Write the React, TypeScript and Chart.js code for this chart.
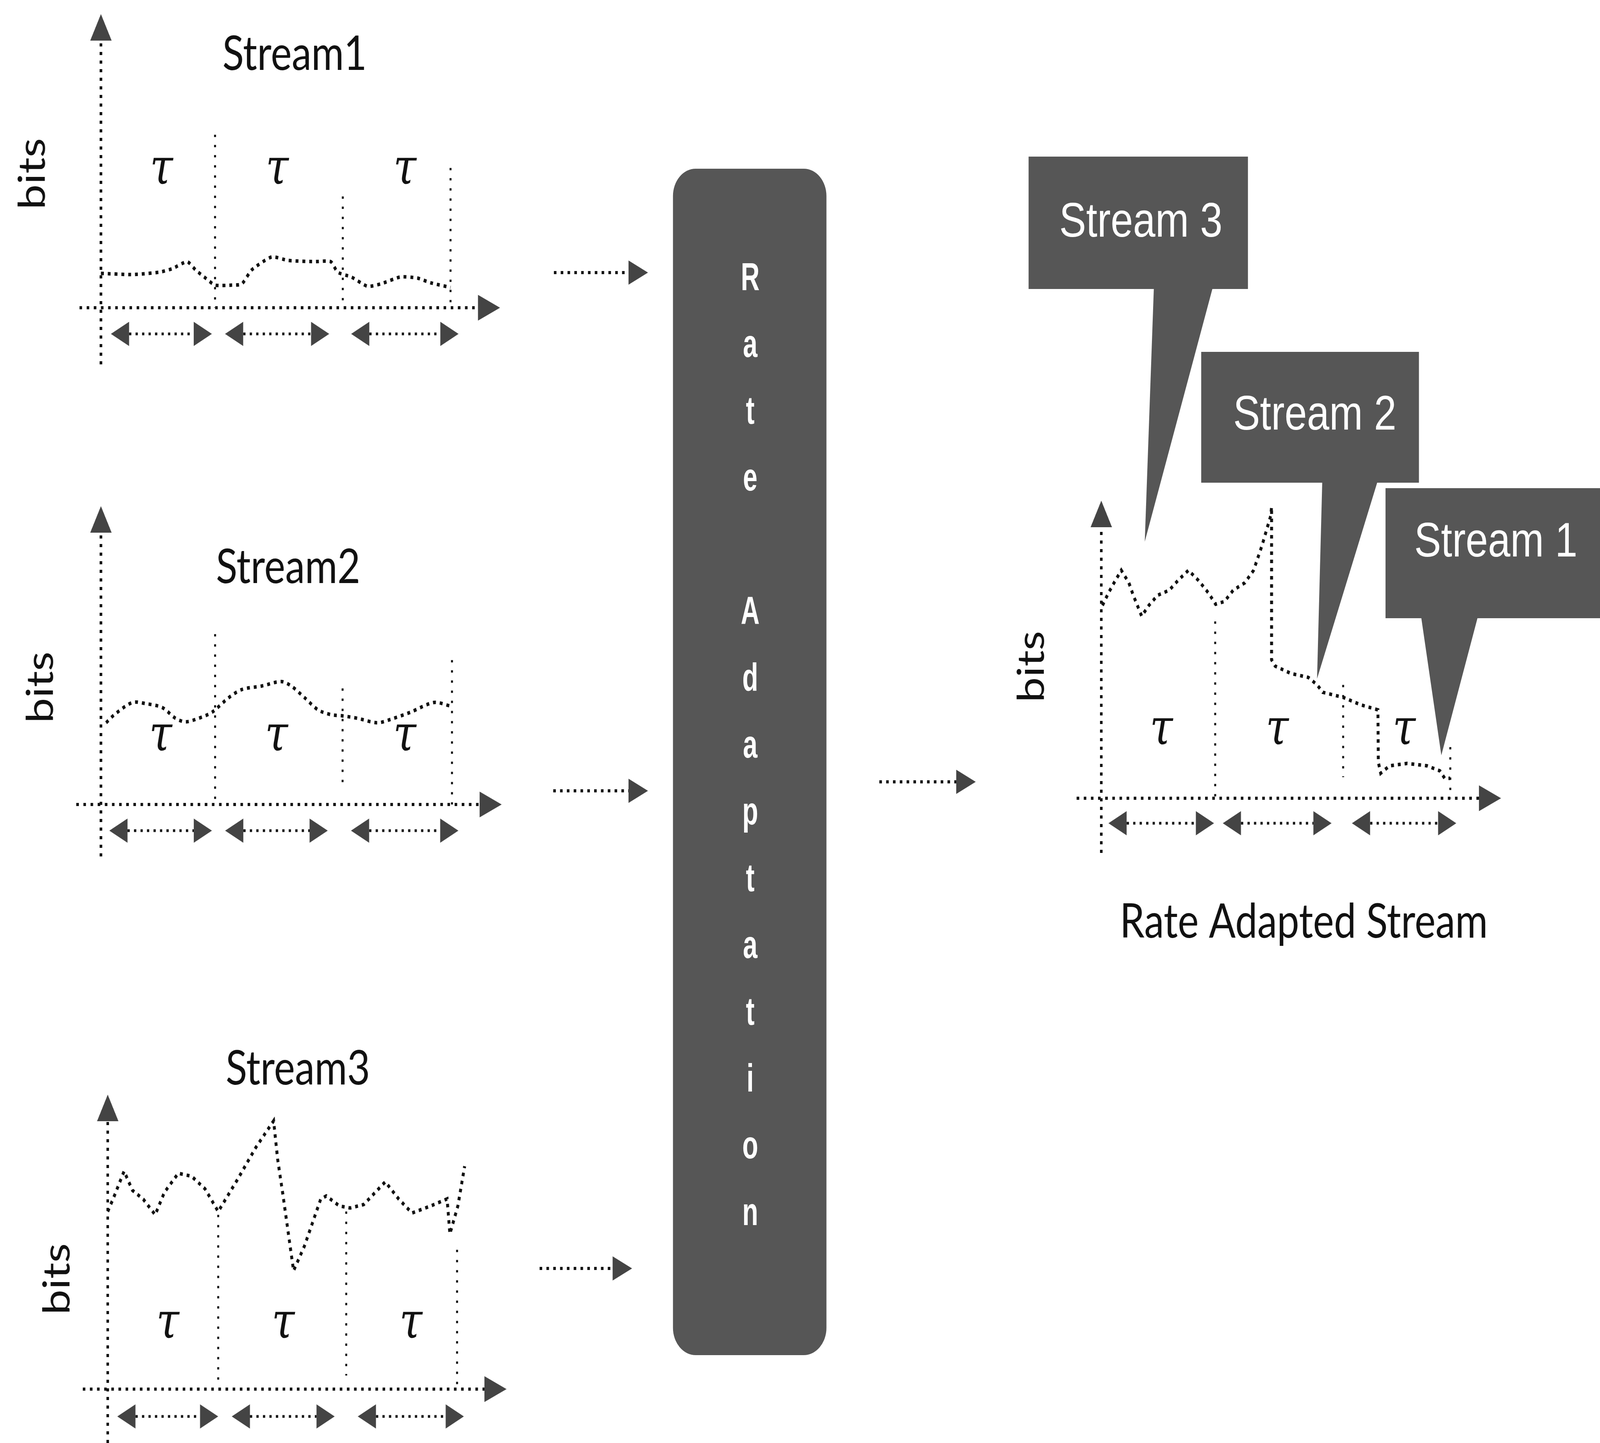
import React, { useEffect, useRef } from "react";
import { Chart, registerables } from "chart.js";

Chart.register(...registerables);

// ---------------- DATA (time units 0–100 along each time axis, bits units 0–100) ----------------
const stream1Time = [0, 7.9, 14.6, 17.9, 21.6, 23.7, 26.2, 28.6, 32.8, 35.3, 37.8, 42.8, 46.9, 53.5, 57.6, 59.3, 62.7, 66.8, 70.1, 75.1, 79.3, 82.6, 87.6];
const stream1Bits = [11.7, 11.3, 12.1, 13.3, 15.7, 12.9, 10.1, 7.7, 7.7, 8.1, 12.9, 17.3, 16.1, 15.7, 15.7, 12.1, 10.5, 7.3, 8.1, 10.5, 10.1, 8.5, 6.9];
const stream1Boundaries = [28.6, 60.6, 87.6];
const stream1BoundaryTops = [58.9, 37.9, 47.6];
const stream1BoundaryBottoms = [0, 0, 0];
const stream1Periods = [[2.5, 27.8], [31.1, 57.2], [62.7, 89.6]];

const stream2Time = [1.3, 3.7, 7.9, 11.2, 15.3, 18.6, 21.1, 24.4, 27.7, 31.8, 35.1, 40.1, 45.0, 47.5, 50.9, 54.2, 57.4, 60.3, 64.0, 69.0, 73.1, 77.2, 83.1, 87.2];
const stream2Bits = [27.4, 30.5, 34.2, 33.8, 32.5, 28.9, 27.7, 28.9, 30.9, 35.7, 38.5, 39.7, 41.2, 39.7, 35.7, 31.7, 30.1, 29.7, 28.9, 27.4, 28.9, 30.9, 34.2, 33.0];
const stream2Boundaries = [28.5, 60.3, 87.6];
const stream2BoundaryTops = [57.1, 38.9, 48.4];
const stream2BoundaryBottoms = [0, 7.2, 0];
const stream2Periods = [[2.1, 27.7], [31.0, 56.6], [62.4, 89.2]];

const stream3Time = [0, 1.5, 4.1, 6.2, 8.9, 11.9, 14.2, 17.7, 21.0, 24.4, 27.7, 32.5, 37.2, 41.6, 42.6, 43.9, 46.6, 49.3, 53.4, 54.8, 58.1, 60.8, 64.2, 69.6, 73.0, 76.3, 81.0, 85.1, 85.8, 87.8, 89.5];
const stream3Bits = [60.3, 65.1, 74.0, 67.5, 64.5, 59.2, 66.8, 73.3, 72.3, 68.0, 60.3, 71.1, 82.2, 91.1, 78.1, 66.3, 40.2, 48.5, 64.5, 65.6, 62.2, 61.5, 62.7, 70.4, 64.5, 59.8, 62.2, 64.6, 52.7, 62.2, 75.7];
const stream3Boundaries = [27.7, 59.8, 87.6];
const stream3BoundaryTops = [59.2, 60.3, 47.3];
const stream3BoundaryBottoms = [1, 4.6, 1.5];
const stream3Periods = [[2.4, 27.7], [31.1, 56.9], [62.7, 89.3]];

const adaptedTime = [0.3, 1.8, 3.2, 5.0, 6.9, 8.0, 10.1, 11.9, 14.1, 17.0, 19.2, 21.8, 24.3, 26.8, 28.6, 30.8, 33.0, 35.9, 38.1, 40.2, 42.4, 42.6, 42.6, 43.5, 47.5, 51.8, 54.0, 55.4, 60.5, 64.9, 69.2, 69.3, 69.9, 72.1, 76.5, 81.5, 84.7, 85.9, 87.3];
const adaptedBits = [64.8, 69.0, 72.4, 76.6, 72.4, 68.2, 61.2, 64.8, 68.2, 69.9, 73.2, 76.6, 73.2, 69.0, 65.2, 66.1, 69.9, 72.4, 76.6, 84.9, 95.0, 97.9, 46.5, 44.4, 41.9, 40.6, 38.1, 35.6, 33.9, 31.4, 29.7, 12.1, 8.4, 10.9, 11.7, 10.9, 9.2, 6.7, 6.7];
const adaptedBoundaries = [28.5, 60.5, 87.3];
const adaptedBoundaryTops = [59.4, 38.1, 17.2];
const adaptedBoundaryBottoms = [0, 7.1, 0];
const adaptedPeriods = [[1.8, 28.2], [30.4, 57.6], [62.7, 88.8]];

const periodLabel = "τ";
const yAxisLabel = "bits";
const streamTitles = ["Stream1", "Stream2", "Stream3"];
const adaptedTitle = "Rate Adapted Stream";
const calloutLabels = ["Stream 3", "Stream 2", "Stream 1"];
const processLabel = "Rate Adaptation";

// ---------------- STYLE / LAYOUT ----------------
const PAGE_W = 4931;
const PAGE_H = 3695;
const INK = "#111111";
const HEAD = "#444444";
const GREY = "#565656";
const SANS = 'Lato, "Open Sans", "DejaVu Sans", sans-serif';
const ARIAL = '"Liberation Sans", Arial, sans-serif';
const TAU_FONT = 'italic 128px "DejaVu Serif", "Liberation Serif", serif';
const AX_HEAD = 68;
const AX_HALF = 33;
const P_HEAD = 56;
const P_HALF = 31;

type Layout = {
  canvas: { left: number; top: number; width: number; height: number };
  area: { left: number; top: number; right: number; bottom: number };
  axisStartX: number;
  axisEndY: number;
  periodRowY: number;
  titleX: number;
  titleY: number;
  bitsX: number;
  bitsY: number;
  tauY: number;
};

type Spec = {
  key: string;
  title: string;
  time: number[];
  bits: number[];
  boundaries: number[];
  boundaryTops: number[];
  boundaryBottoms: number[];
  periods: number[][];
  tension: number;
  layout: Layout;
};

const SPECS: Spec[] = [
  {
    key: "s1", title: streamTitles[0], time: stream1Time, bits: stream1Bits,
    boundaries: stream1Boundaries, boundaryTops: stream1BoundaryTops, boundaryBottoms: stream1BoundaryBottoms,
    periods: stream1Periods, tension: 0.2,
    layout: {
      canvas: { left: 0, top: 0, width: 1640, height: 990 },
      area: { left: 311, top: 36, right: 1541, bottom: 788 },
      axisStartX: 245, axisEndY: 933, periodRowY: 855,
      titleX: 908, titleY: 179, bitsX: 138, bitsY: 445, tauY: 445,
    },
  },
  {
    key: "s2", title: streamTitles[1], time: stream2Time, bits: stream2Bits,
    boundaries: stream2Boundaries, boundaryTops: stream2BoundaryTops, boundaryBottoms: stream2BoundaryBottoms,
    periods: stream2Periods, tension: 0.3,
    layout: {
      canvas: { left: 0, top: 1230, width: 1640, height: 1000 },
      area: { left: 311, top: 1296, right: 1546, bottom: 2060 },
      axisStartX: 235, axisEndY: 2193, periodRowY: 2127,
      titleX: 888, titleY: 1493, bitsX: 163, bitsY: 1760, tauY: 1896,
    },
  },
  {
    key: "s3", title: streamTitles[2], time: stream3Time, bits: stream3Bits,
    boundaries: stream3Boundaries, boundaryTops: stream3BoundaryTops, boundaryBottoms: stream3BoundaryBottoms,
    periods: stream3Periods, tension: 0,
    layout: {
      canvas: { left: 0, top: 2640, width: 1640, height: 1055 },
      area: { left: 332, top: 2803, right: 1561, bottom: 3557 },
      axisStartX: 255, axisEndY: 3695, periodRowY: 3627,
      titleX: 918, titleY: 2777, bitsX: 214, bitsY: 3275, tauY: 3400,
    },
  },
  {
    key: "ra", title: adaptedTitle, time: adaptedTime, bits: adaptedBits,
    boundaries: adaptedBoundaries, boundaryTops: adaptedBoundaryTops, boundaryBottoms: adaptedBoundaryBottoms,
    periods: adaptedPeriods, tension: 0,
    layout: {
      canvas: { left: 3050, top: 1200, width: 1700, height: 1300 },
      area: { left: 3394, top: 1282, right: 4626, bottom: 2044 },
      axisStartX: 3318, axisEndY: 2184, periodRowY: 2108,
      titleX: 4018, titleY: 2401, bitsX: 3217, bitsY: 1707, tauY: 1880,
    },
  },
];

function seg(ctx: CanvasRenderingContext2D, x0: number, y0: number, x1: number, y1: number) {
  ctx.beginPath();
  ctx.moveTo(x0, y0);
  ctx.lineTo(x1, y1);
  ctx.stroke();
}

function tri(ctx: CanvasRenderingContext2D, x: number, y: number, dir: string, len: number, half: number) {
  ctx.beginPath();
  ctx.moveTo(x, y);
  if (dir === "right") {
    ctx.lineTo(x - len, y - half);
    ctx.lineTo(x - len, y + half);
  } else if (dir === "left") {
    ctx.lineTo(x + len, y - half);
    ctx.lineTo(x + len, y + half);
  } else {
    ctx.lineTo(x - half, y + len);
    ctx.lineTo(x + half, y + len);
  }
  ctx.closePath();
  ctx.fill();
}

function makeDiagramPlugin(spec: Spec) {
  const lay = spec.layout;
  return {
    id: "diagram_" + spec.key,
    beforeDatasetsDraw(chart: any) {
      const ctx: CanvasRenderingContext2D = chart.ctx;
      const a = chart.chartArea;
      const xs = chart.scales.x;
      const ys = chart.scales.y;
      const ox = lay.canvas.left;
      const oy = lay.canvas.top;
      ctx.save();
      ctx.lineCap = "butt";
      ctx.strokeStyle = INK;
      ctx.fillStyle = HEAD;

      // axes with arrowheads
      ctx.lineWidth = 8;
      ctx.setLineDash([8, 14]);
      seg(ctx, lay.axisStartX - ox, a.bottom, a.right - AX_HEAD, a.bottom);
      seg(ctx, a.left, lay.axisEndY - oy, a.left, a.top + AX_HEAD);
      ctx.setLineDash([]);
      tri(ctx, a.right, a.bottom, "right", AX_HEAD, AX_HALF);
      tri(ctx, a.left, a.top, "up", AX_HEAD, AX_HALF);

      // interval boundaries
      ctx.lineWidth = 6;
      ctx.setLineDash([6, 20]);
      spec.boundaries.forEach((b, i) => {
        const px = xs.getPixelForValue(b);
        seg(ctx, px, ys.getPixelForValue(spec.boundaryTops[i]), px, ys.getPixelForValue(spec.boundaryBottoms[i]));
      });

      // period markers and tau labels
      const py = lay.periodRowY - oy;
      spec.periods.forEach((p) => {
        const x0 = xs.getPixelForValue(p[0]);
        const x1 = xs.getPixelForValue(p[1]);
        ctx.strokeStyle = INK;
        ctx.lineWidth = 7;
        ctx.setLineDash([7, 13]);
        seg(ctx, x0 + P_HEAD, py, x1 - P_HEAD, py);
        ctx.setLineDash([]);
        ctx.fillStyle = HEAD;
        tri(ctx, x0, py, "left", P_HEAD, P_HALF);
        tri(ctx, x1, py, "right", P_HEAD, P_HALF);
        ctx.fillStyle = INK;
        ctx.font = TAU_FONT;
        ctx.textAlign = "center";
        ctx.textBaseline = "alphabetic";
        ctx.fillText(periodLabel, (x0 + x1) / 2, lay.tauY - oy + 26);
      });

      // title
      ctx.fillStyle = INK;
      ctx.font = "122px " + SANS;
      ctx.textAlign = "center";
      ctx.textBaseline = "alphabetic";
      ctx.fillText(spec.title, lay.titleX - ox, lay.titleY - oy);

      // y label
      ctx.save();
      ctx.translate(lay.bitsX - ox, lay.bitsY - oy);
      ctx.rotate(-Math.PI / 2);
      ctx.font = "115px " + SANS;
      ctx.textAlign = "center";
      ctx.textBaseline = "alphabetic";
      ctx.fillText(yAxisLabel, 0, 0);
      ctx.restore();

      ctx.restore();
    },
  };
}

function StreamChart({ spec, dpr }: { spec: Spec; dpr: number }) {
  const ref = useRef<HTMLCanvasElement | null>(null);
  useEffect(() => {
    const canvas = ref.current;
    if (!canvas) return;
    const lay = spec.layout;
    const c = lay.canvas;
    const chart = new Chart(canvas, {
      type: "line",
      data: {
        datasets: [
          {
            data: spec.time.map((t, i) => ({ x: t, y: spec.bits[i] })),
            borderColor: INK,
            borderWidth: 9,
            borderDash: [9, 12],
            borderCapStyle: "butt",
            pointRadius: 0,
            tension: spec.tension,
            fill: false,
            clip: false,
          } as any,
        ],
      },
      options: {
        responsive: false,
        maintainAspectRatio: false,
        animation: false,
        devicePixelRatio: dpr,
        events: [],
        layout: {
          padding: {
            left: lay.area.left - c.left,
            top: lay.area.top - c.top,
            right: c.left + c.width - lay.area.right,
            bottom: c.top + c.height - lay.area.bottom,
          },
        },
        scales: {
          x: { type: "linear", min: 0, max: 100, display: false },
          y: { type: "linear", min: 0, max: 100, display: false },
        },
        plugins: {
          legend: { display: false },
          tooltip: { enabled: false },
          title: { display: false },
        },
      },
      plugins: [makeDiagramPlugin(spec)],
    } as any);
    return () => chart.destroy();
  }, [spec, dpr]);
  const c = spec.layout.canvas;
  return (
    <canvas
      ref={ref}
      width={c.width}
      height={c.height}
      style={{ position: "absolute", left: c.left, top: c.top, width: c.width, height: c.height }}
    />
  );
}

const FLOW_ARROWS = [
  { x1: 1707, x2: 1997, y: 698 },
  { x1: 1705, x2: 1997, y: 2025 },
  { x1: 1663, x2: 1948, y: 3248 },
  { x1: 2710, x2: 3007, y: 2002 },
];

const CALLOUTS = [
  { box: [3170, 401, 3846, 740], base: [3556, 3737], tip: [3528, 1387], tx: 3516, ty: 606 },
  { box: [3702, 901, 4373, 1236], base: [4075, 4245], tip: [4059, 1738], tx: 4052, ty: 1100 },
  { box: [4270, 1250, 4990, 1583], base: [4380, 4554], tip: [4442, 1934], tx: 4610, ty: 1425 },
];

const BOX = { x: 2074, y: 432, w: 473, h: 3038, r: 70, cx: 2312, firstY: 708, step: 171 };

function Overlay() {
  const letters = processLabel.split("");
  return (
    <svg
      width={PAGE_W}
      height={PAGE_H}
      style={{ position: "absolute", left: 0, top: 0, pointerEvents: "none" }}
    >
      <rect x={BOX.x} y={BOX.y} width={BOX.w} height={BOX.h} rx={BOX.r} ry={BOX.r} fill={GREY} />
      {letters.map((ch, i) =>
        ch === " " ? null : (
          <text
            key={"l" + i}
            transform={`translate(${BOX.cx} ${BOX.firstY + i * BOX.step}) scale(0.8 1)`}
            x={0}
            y={0}
            fill="#ffffff"
            fontFamily={ARIAL}
            fontWeight="bold"
            fontSize={100}
            textAnchor="middle"
            dominantBaseline="central"
          >
            {ch}
          </text>
        )
      )}
      {FLOW_ARROWS.map((a, i) => (
        <g key={"a" + i}>
          <line x1={a.x1} y1={a.y} x2={a.x2 - 60} y2={a.y} stroke={INK} strokeWidth={8} strokeDasharray="8 13" />
          <polygon points={`${a.x2 - 60},${a.y - 31} ${a.x2},${a.y} ${a.x2 - 60},${a.y + 31}`} fill={HEAD} />
        </g>
      ))}
      {CALLOUTS.map((c, i) => (
        <g key={"c" + i}>
          <rect x={c.box[0]} y={c.box[1]} width={c.box[2] - c.box[0]} height={c.box[3] - c.box[1]} fill={GREY} />
          <polygon
            points={`${c.base[0]},${c.box[3] - 2} ${c.base[1]},${c.box[3] - 2} ${c.tip[0]},${c.tip[1]}`}
            fill={GREY}
          />
          <text x={c.tx} y={c.ty} fill="#ffffff" fontFamily={ARIAL} fontSize={124} textAnchor="middle">
            {calloutLabels[i]}
          </text>
        </g>
      ))}
    </svg>
  );
}

export default function App() {
  const vw = typeof window !== "undefined" ? window.innerWidth : PAGE_W;
  const vh = typeof window !== "undefined" ? window.innerHeight : PAGE_H;
  const sx = vw / PAGE_W;
  const sy = vh / PAGE_H;
  const devRatio = typeof window !== "undefined" ? window.devicePixelRatio || 1 : 1;
  const chartDpr = Math.max(1, devRatio * Math.max(sx, sy));
  return (
    <div
      style={{
        position: "fixed",
        left: 0,
        top: 0,
        width: vw,
        height: vh,
        overflow: "hidden",
        background: "#ffffff",
      }}
    >
      <div
        style={{
          position: "absolute",
          left: 0,
          top: 0,
          width: PAGE_W,
          height: PAGE_H,
          background: "#ffffff",
          transform: `scale(${sx}, ${sy})`,
          transformOrigin: "0 0",
        }}
      >
        {SPECS.map((s) => (
          <StreamChart key={s.key} spec={s} dpr={chartDpr} />
        ))}
        <Overlay />
      </div>
    </div>
  );
}
